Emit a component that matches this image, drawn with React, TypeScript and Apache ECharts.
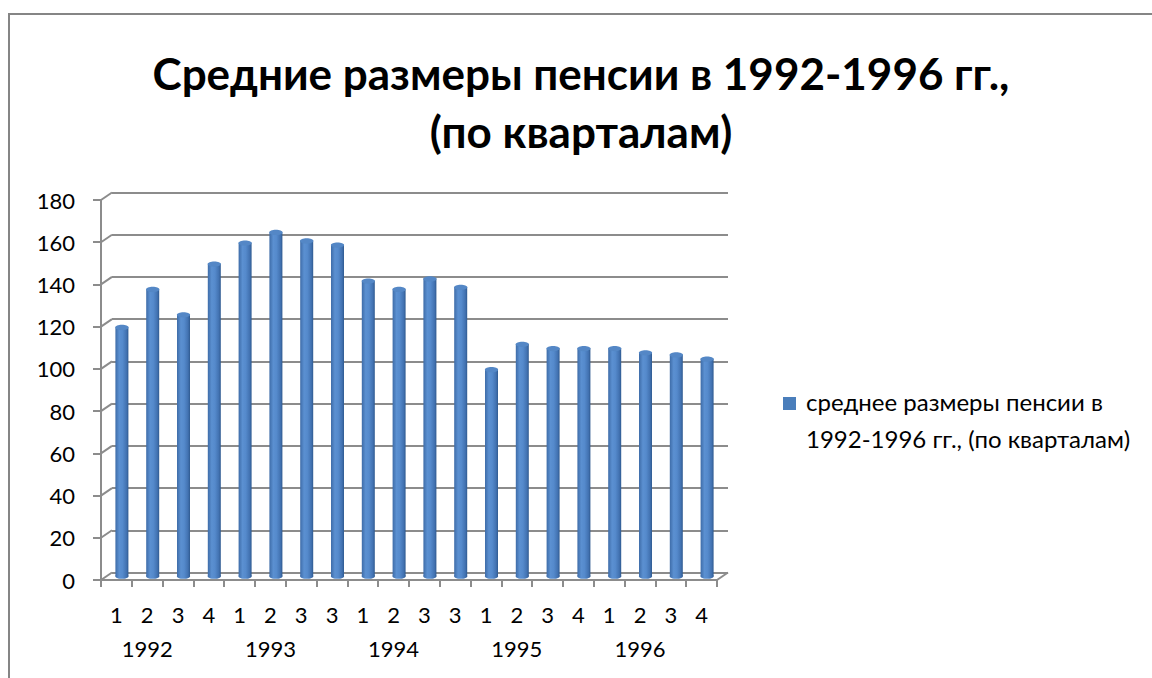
import React, { useEffect, useRef } from "react";
import * as echarts from "echarts";

const quarters = ["1", "2", "3", "4", "1", "2", "3", "3", "1", "2", "3", "3", "1", "2", "3", "4", "1", "2", "3", "4"];
const years = ["1992", "1993", "1994", "1995", "1996"];
const pensions = [118, 136, 124, 148, 158, 163, 159, 157, 140, 136, 141, 137, 98, 110, 108, 108, 108, 106, 105, 103];
const yTicks = [0, 20, 40, 60, 80, 100, 120, 140, 160, 180];
const seriesName = "среднее размеры пенсии в 1992-1996 гг., (по кварталам)";
const legendText = "среднее размеры пенсии в\n1992-1996 гг., (по кварталам)";
const titleText = "Средние размеры пенсии в 1992-1996 гг.,\n(по кварталам)";

const FRONT = { left: 101, top: 200, width: 616, height: 380 };
const BACK = { left: 112, top: 192.5, width: 616, height: 380 };
const MID = { left: 106.5, top: 196.25, width: 616, height: 380 };
const GRAY = "#8c8c8c";
const FONT = "Lato";
const ELLIPSE = "path://M0,50 C0,22 22,0 50,0 C78,0 100,22 100,50 C100,78 78,100 50,100 C22,100 0,78 0,50 Z";
const LEGEND_ICON = "path://M0,0 L0,0 Z M0,2 L13,2 L13,15 L0,15 Z M18,50 L18,50 Z";

export default function App() {
  const ref = useRef<HTMLDivElement>(null);
  useEffect(() => {
    if (!ref.current) return;
    const chart = echarts.init(ref.current, null, { renderer: "svg" });
    const yearAxisData = quarters.map((_, i) => (i % 4 === 1 ? years[Math.floor(i / 4)] : ""));
    const bodyGradient = {
      type: "linear", x: 0, y: 0, x2: 1, y2: 0,
      colorStops: [
        { offset: 0, color: "#3e6ca8" },
        { offset: 0.3, color: "#5b90d1" },
        { offset: 0.55, color: "#558acc" },
        { offset: 0.85, color: "#4272b1" },
        { offset: 1, color: "#2f5a90" },
      ],
    };
    const dx = FRONT.left - BACK.left;
    const dy = FRONT.top - BACK.top;
    chart.setOption({
      animation: false,
      backgroundColor: "#ffffff",
      title: {
        text: titleText,
        left: 581,
        top: 44,
        padding: 0,
        textAlign: "center",
        textStyle: { fontFamily: FONT, fontSize: 44, fontWeight: "bold", color: "#000", lineHeight: 58 },
      },
      legend: {
        left: 778,
        top: 378,
        icon: LEGEND_ICON,
        itemWidth: 18,
        itemHeight: 50,
        data: [{ name: seriesName, itemStyle: { color: "#4a7ebb" } }],
        formatter: () => legendText,
        textStyle: { fontFamily: FONT, fontSize: 24, color: "#000", lineHeight: 37 },
      },
      graphic: [
        {
          type: "rect",
          shape: { x: 9, y: 14, width: 2000, height: 2000 },
          style: { fill: "none", stroke: "#858585", lineWidth: 2 },
          silent: true,
        },
      ],
      grid: [
        { ...FRONT },
        { ...BACK },
        { ...MID },
      ],
      xAxis: [
        {
          type: "category",
          gridIndex: 0,
          data: quarters,
          boundaryGap: true,
          axisLine: { show: true, lineStyle: { color: GRAY, width: 2 } },
          axisTick: { show: true, interval: 0, length: 7, lineStyle: { color: GRAY, width: 2 } },
          axisLabel: { interval: 0, margin: 23, fontFamily: FONT, fontSize: 22, color: "#000" },
        },
        {
          type: "category",
          gridIndex: 0,
          position: "bottom",
          data: yearAxisData,
          boundaryGap: true,
          axisLine: { show: false },
          axisTick: { show: false },
          axisLabel: { interval: 0, margin: 57, fontFamily: FONT, fontSize: 22, color: "#000" },
        },
        { type: "value", gridIndex: 1, min: 0, max: 1, show: false },
        { type: "category", gridIndex: 2, data: quarters, show: false },
      ],
      yAxis: [
        {
          type: "value",
          gridIndex: 0,
          min: 0,
          max: 180,
          interval: 20,
          axisLine: { show: true, lineStyle: { color: GRAY, width: 2 } },
          axisTick: { show: true, length: 8, lineStyle: { color: GRAY, width: 2 } },
          axisLabel: { margin: 26, fontFamily: FONT, fontSize: 22, color: "#000" },
          splitLine: { show: false },
        },
        {
          type: "value",
          gridIndex: 1,
          min: 0,
          max: 180,
          interval: 20,
          axisLine: { show: false },
          axisTick: { show: false },
          axisLabel: { show: false },
          splitLine: { show: true, lineStyle: { color: GRAY, width: 2 } },
        },
        { type: "value", gridIndex: 2, min: 0, max: 180, interval: 20, show: false },
      ],
      series: [
        {
          type: "custom",
          xAxisIndex: 2,
          yAxisIndex: 1,
          silent: true,
          data: yTicks.map((v) => [0, v]),
          renderItem: (params: any, api: any) => {
            const v = api.value(1);
            const p = api.coord([0, v]);
            const children: any[] = [
              {
                type: "line",
                shape: { x1: p[0], y1: p[1], x2: p[0] + dx, y2: p[1] + dy },
                style: { stroke: GRAY, lineWidth: 2 },
              },
            ];
            if (v === 0) {
              const q = api.coord([1, 0]);
              children.push({
                type: "line",
                shape: { x1: q[0], y1: q[1], x2: q[0] + dx, y2: q[1] + dy },
                style: { stroke: GRAY, lineWidth: 2 },
              });
            }
            return { type: "group", children };
          },
        },
        {
          name: seriesName,
          type: "bar",
          xAxisIndex: 3,
          yAxisIndex: 2,
          barWidth: 13,
          data: pensions,
          itemStyle: { color: bodyGradient as any },
          z: 3,
        },
        {
          name: "base",
          type: "pictorialBar",
          xAxisIndex: 3,
          yAxisIndex: 2,
          symbol: ELLIPSE,
          symbolSize: [13, 5],
          symbolPosition: "start",
          symbolOffset: [0, "50%"],
          data: pensions,
          itemStyle: { color: bodyGradient as any },
          z: 2,
        },
        {
          name: "cap",
          type: "pictorialBar",
          xAxisIndex: 3,
          yAxisIndex: 2,
          symbol: ELLIPSE,
          symbolSize: [13, 5],
          symbolPosition: "end",
          symbolOffset: [0, "-50%"],
          data: pensions,
          itemStyle: { color: "#5487c6", borderColor: "#36649e", borderWidth: 1 },
          z: 4,
        },
      ],
    });
    return () => chart.dispose();
  }, []);
  return (
    <div
      ref={ref}
      style={{ position: "absolute", left: 0, top: 0, width: 1152, height: 678 }}
    />
  );
}
